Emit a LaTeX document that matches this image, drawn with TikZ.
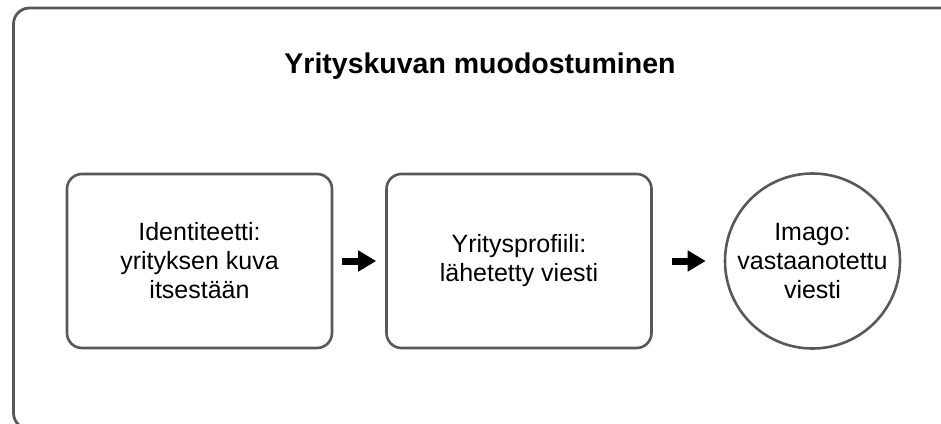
\documentclass[tikz,border=0pt]{standalone}
\usepackage{fontspec}
\setmainfont{Liberation Sans}
\usetikzlibrary{arrows.meta}
\definecolor{frame}{RGB}{88,88,88}
\begin{document}
\begin{tikzpicture}[x=1pt,y=-1pt,
  box/.style={draw=frame,line width=2.6pt,rounded corners=15pt,minimum width=265pt,minimum height=174pt,inner sep=0pt,align=center,font=\fontsize{25}{29}\selectfont},
  circ/.style={draw=frame,line width=2.6pt,circle,minimum size=175pt,inner sep=0pt,align=center,font=\fontsize{25}{29}\selectfont},
  arr/.style={line width=7pt,-{Triangle[length=18pt,width=20pt]}}]
\useasboundingbox (0,0) rectangle (941,423);
\begin{scope}
\clip (0,0) rectangle (941,423);
\draw[frame,line width=2.8pt,rounded corners=16pt] (13.5,8) rectangle (975,429);
\end{scope}
\node[anchor=base,font=\fontsize{28.5}{32}\selectfont\bfseries] (title) at (480,73) {Yrityskuvan muodostuminen};
\node[box] (b1) at (199.5,261) {Identiteetti:\\yrityksen kuva\\itsestään};
\node[box] (b2) at (519,261) {Yritysprofiili:\\lähetetty viesti};
\node[circ] (c) at (812.5,261) {Imago:\\vastaanotettu\\viesti};
\draw[arr,shorten <=9pt,shorten >=9pt] (b1) -- (b2);
\draw[arr,shorten <=19pt,shorten >=18pt] (b2) -- (c);
\end{tikzpicture}
\end{document}
